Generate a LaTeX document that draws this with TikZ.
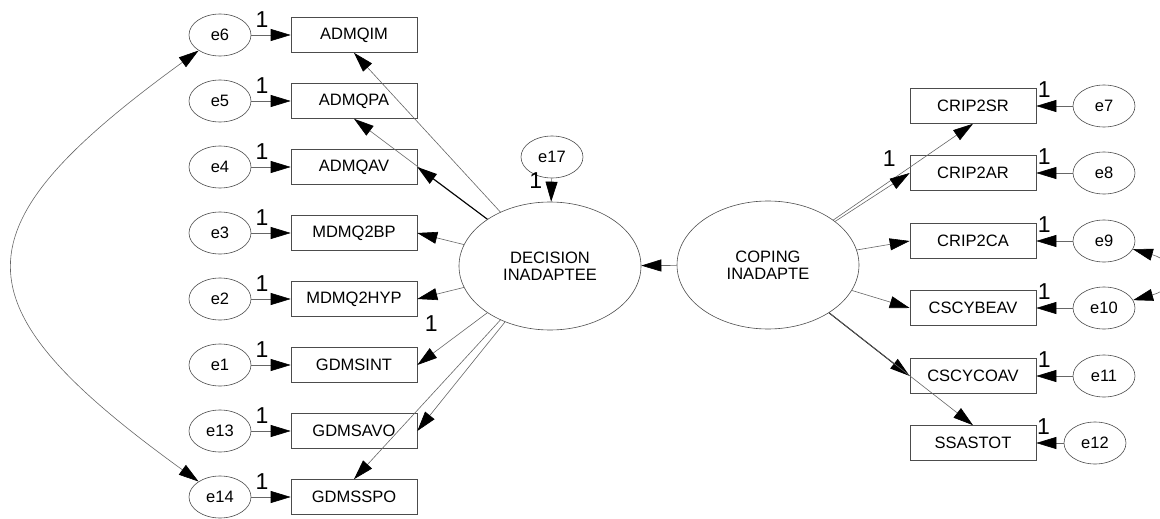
\documentclass[tikz,border=0pt]{standalone}
\usepackage{fontspec}
\setmainfont{Liberation Sans}
\usetikzlibrary{arrows.meta,shapes.geometric}

\begin{document}
\begin{tikzpicture}[x=1pt, y=-1pt,
		every node/.style={font=\fontsize{16.5}{17}\selectfont},
		latent/.style={ellipse, draw=black!70, line width=0.6pt, minimum width=182pt, minimum height=128pt, inner sep=0pt, align=center},
		err/.style={ellipse, draw=black!70, line width=0.6pt, minimum width=62pt, minimum height=42pt, inner sep=0pt},
		obs/.style={rectangle, draw=black!70, line width=0.6pt, minimum width=126pt, minimum height=35pt, inner sep=0pt},
		load/.style={draw=black!60, line width=0.6pt, -{Triangle[length=20pt, width=12pt, color=black]}},
		strong/.style={draw=black, line width=1pt, -{Triangle[length=20pt, width=12pt, color=black]}},
		cov/.style={draw=black!60, line width=0.6pt, {Triangle[length=20pt, width=12pt, color=black]}-{Triangle[length=20pt, width=12pt, color=black]}},
		one/.style={font=\fontsize{23}{23}\selectfont, inner sep=1pt}]
			%%%%% START %%%%%
			
			\useasboundingbox (0, 0) rectangle (1160, 519);
			
			%% left column
			\node[err] (e6) at (220, 35) {e6};
			\node[obs] (admqim) at (354, 35) {ADMQIM};
			\node[err] (e5) at (220, 101) {e5};
			\node[obs] (admqpa) at (354, 101) {ADMQPA};
			\node[err] (e4) at (220, 167) {e4};
			\node[obs] (admqav) at (354, 167) {ADMQAV};
			\node[err] (e3) at (220, 233) {e3};
			\node[obs] (mdmq2bp) at (354, 233) {MDMQ2BP};
			\node[err] (e2) at (220, 299) {e2};
			\node[obs] (mdmq2hyp) at (354, 299) {MDMQ2HYP};
			\node[err] (e1) at (220, 365) {e1};
			\node[obs] (gdmsint) at (354, 365) {GDMSINT};
			\node[err] (e13) at (220, 431) {e13};
			\node[obs] (gdmsavo) at (354, 431) {GDMSAVO};
			\node[err] (e14) at (220, 497) {e14};
			\node[obs] (gdmsspo) at (354, 497) {GDMSSPO};
			
			%% latent variables
			\node[latent] (dec) at (550, 266) {DECISION\\INADAPTEE};
			\node[latent] (cop) at (768, 265) {COPING\\INADAPTE};
			\node[err] (e17) at (552, 157) {e17};
			
			%% right column
			\node[obs] (crip2sr) at (973, 106) {CRIP2SR};
			\node[err] (e7) at (1104, 106) {e7};
			\node[obs] (crip2ar) at (973, 173) {CRIP2AR};
			\node[err] (e8) at (1104, 173) {e8};
			\node[obs] (crip2ca) at (973, 241) {CRIP2CA};
			\node[err] (e9) at (1104, 241) {e9};
			\node[obs] (cscybeav) at (973, 308) {CSCYBEAV};
			\node[err] (e10) at (1104, 308) {e10};
			\node[obs] (cscycoav) at (973, 376) {CSCYCOAV};
			\node[err] (e11) at (1104, 376) {e11};
			\node[obs] (ssastot) at (973, 443) {SSASTOT};
			\node[err] (e12) at (1095, 443) {e12};
			
			%% error terms, left
			\draw[load] (e6) -- node[one, pos=0.27, above, yshift=6pt] {1} (admqim);
			\draw[load] (e5) -- node[one, pos=0.27, above, yshift=6pt] {1} (admqpa);
			\draw[load] (e4) -- node[one, pos=0.27, above, yshift=6pt] {1} (admqav);
			\draw[load] (e3) -- node[one, pos=0.27, above, yshift=6pt] {1} (mdmq2bp);
			\draw[load] (e2) -- node[one, pos=0.27, above, yshift=6pt] {1} (mdmq2hyp);
			\draw[load] (e1) -- node[one, pos=0.27, above, yshift=6pt] {1} (gdmsint);
			\draw[load] (e13) -- node[one, pos=0.27, above, yshift=6pt] {1} (gdmsavo);
			\draw[load] (e14) -- node[one, pos=0.27, above, yshift=6pt] {1} (gdmsspo);
			
			%% error terms, right
			\draw[load] (e7) -- node[one, pos=0.78, above, yshift=7pt] {1} (crip2sr);
			\draw[load] (e8) -- node[one, pos=0.78, above, yshift=7pt] {1} (crip2ar);
			\draw[load] (e9) -- node[one, pos=0.78, above, yshift=7pt] {1} (crip2ca);
			\draw[load] (e10) -- node[one, pos=0.78, above, yshift=7pt] {1} (cscybeav);
			\draw[load] (e11) -- node[one, pos=0.78, above, yshift=7pt] {1} (cscycoav);
			\draw[load] (e12) -- node[one, pos=0.74, above, yshift=7pt] {1} (ssastot);
			
			%% disturbance
			\draw[load] (e17) -- node[one, pos=0.1, left, xshift=-8pt] {1} (dec);
			
			%% decision loadings
			\draw[load] (dec) -- (admqim.south);
			\draw[load] (dec) -- (admqpa.south);
			\draw[strong] (dec) -- (admqav.east);
			\draw[load] (dec) -- (mdmq2bp.east);
			\draw[load] (dec) -- (mdmq2hyp.east);
			\draw[load] (dec) -- node[one, pos=0.8, above, yshift=22pt] {1} (gdmsint.east);
			\draw[load] (dec) -- (gdmsavo.east);
			\draw[load] (dec) -- (gdmsspo.north);
			
			%% coping loadings
			\draw[load] (cop) -- node[one, pos=0.4, above, yshift=14pt] {1} (crip2sr.south);
			\draw[load] (cop) -- (crip2ar.west);
			\draw[load] (cop) -- (crip2ca.west);
			\draw[load] (cop) -- (cscybeav.west);
			\draw[strong] (cop) -- (cscycoav.west);
			\draw[load] (cop) -- (ssastot.north);
			\draw[load] (cop) -- (dec);
			
			%% covariances
			\draw[cov] (e6) .. controls (-47, 229) and (-47, 304) .. (e14);
			\draw[cov] (e9) .. controls (1178, 262) and (1178, 288) .. (e10);
			
			%%%%% END %%%%%
\end{tikzpicture}
\end{document}
